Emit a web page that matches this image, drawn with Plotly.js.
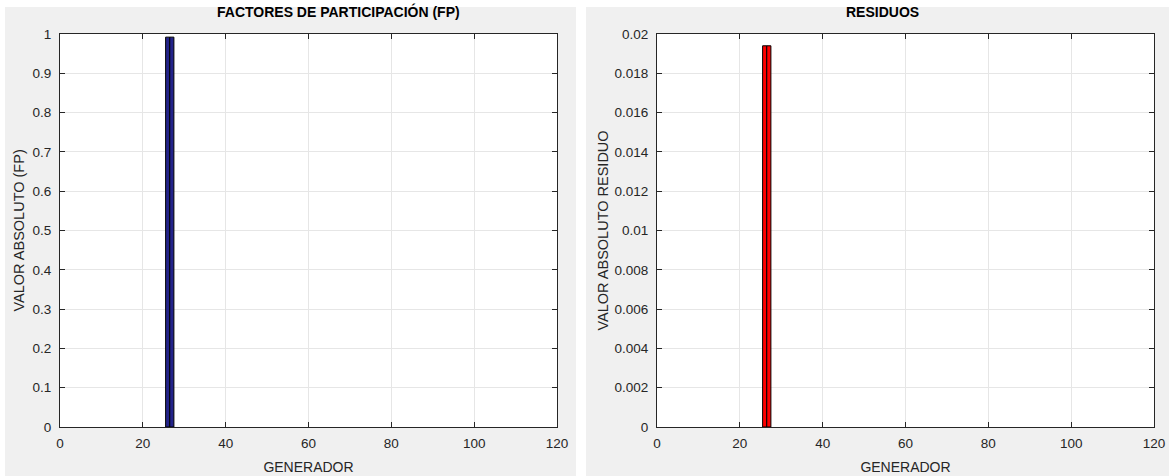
<!DOCTYPE html>
<html>
<head>
<meta charset="utf-8">
<script src="https://cdn.plot.ly/plotly-3.0.1.min.js"></script>
<style>
html,body{margin:0;padding:0;background:#ffffff;}
#wrap{position:relative;width:1169px;height:476px;overflow:hidden;}
.panel{position:absolute;background:#f0f0f0;}
#chart{position:absolute;left:0;top:0;width:1169px;height:476px;}
</style>
</head>
<body>
<div id="wrap">
  <div class="panel" style="left:5px;top:7px;width:571px;height:469px;"></div>
  <div class="panel" style="left:586px;top:7px;width:583px;height:469px;"></div>
  <div id="chart"></div>
</div>
<script>
// Data
const generators = [26, 27];
const fpValues = [0.992, 0.992];
const residueValues = [0.0194, 0.0194];

const xTicks = [0, 20, 40, 60, 80, 100, 120];
const yTicksFP = [0, 0.1, 0.2, 0.3, 0.4, 0.5, 0.6, 0.7, 0.8, 0.9, 1];
const yTicksRes = [0, 0.002, 0.004, 0.006, 0.008, 0.01, 0.012, 0.014, 0.016, 0.018, 0.02];

const titleLeft = 'FACTORES DE PARTICIPACIÓN (FP)';
const titleRight = 'RESIDUOS';
const xLabel = 'GENERADOR';
const yLabelLeft = 'VALOR ABSOLUTO (FP)';
const yLabelRight = 'VALOR ABSOLUTO RESIDUO';

const FONT = 'Liberation Sans, Arial, Helvetica, sans-serif';
const AX = '#262626';

const traces = [
  {type:'bar', x:generators, y:fpValues, width:1, xaxis:'x', yaxis:'y',
   marker:{color:'#23238a', line:{color:'#000000', width:1}}, hoverinfo:'x+y'},
  {type:'bar', x:generators, y:residueValues, width:1, xaxis:'x2', yaxis:'y2',
   marker:{color:'#ff0000', line:{color:'#000000', width:1}}, hoverinfo:'x+y'}
];

function xAxis(domain, anchor){
  return {domain:domain, anchor:anchor, range:[0,120], tickvals:xTicks, ticktext:xTicks.map(String),
    showline:true, linecolor:AX, linewidth:1, mirror:'allticks', ticks:'inside', ticklen:5, tickcolor:AX,
    ticklabelstandoff:4,
    showgrid:true, gridcolor:'#e6e6e6', zeroline:false, tickfont:{family:FONT, size:13.5, color:AX},
    title:{text:xLabel, font:{family:FONT, size:14, color:AX}, standoff:11}, fixedrange:true};
}
function yAxis(domain, anchor, range, ticks){
  return {domain:domain, anchor:anchor, range:range, tickvals:ticks, ticktext:ticks.map(String),
    showline:true, linecolor:AX, linewidth:1, mirror:'allticks', ticks:'inside', ticklen:5, tickcolor:AX,
    ticklabelstandoff:5,
    showgrid:true, gridcolor:'#e6e6e6', zeroline:false, tickfont:{family:FONT, size:13.5, color:AX},
    title:{text:'', font:{family:FONT, size:14, color:AX}}, fixedrange:true};
}

const W = 1169, ML = 60, MR = 15;
const pw = W - ML - MR;
const leftEnd = (557 - ML) / pw;
const rightStart = (657 - ML) / pw;
const leftTitleX = (338 - ML) / pw;
const rightTitleX = (882 - ML) / pw;

const layout = {
  width:1169, height:476,
  margin:{l:ML, r:MR, t:34, b:49, pad:0},
  paper_bgcolor:'rgba(0,0,0,0)', plot_bgcolor:'#ffffff',
  showlegend:false, bargap:0,
  xaxis: xAxis([0, leftEnd], 'y'),
  yaxis: yAxis([0,1], 'x', [0,1], yTicksFP),
  xaxis2: xAxis([rightStart, 1], 'y2'),
  yaxis2: yAxis([0,1], 'x2', [0,0.02], yTicksRes),
  annotations:[
    {text:'<b>'+titleLeft+'</b>', xref:'paper', yref:'paper', x:leftTitleX, y:1, yshift:12, xanchor:'center', yanchor:'bottom', showarrow:false, font:{family:FONT, size:14, color:'#000000'}},
    {text:'<b>'+titleRight+'</b>', xref:'paper', yref:'paper', x:rightTitleX, y:1, yshift:12, xanchor:'center', yanchor:'bottom', showarrow:false, font:{family:FONT, size:14, color:'#000000'}},
    {text:yLabelLeft, xref:'paper', yref:'paper', x:0, xshift:-42, y:0.5, xanchor:'center', yanchor:'middle', textangle:-90, showarrow:false, font:{family:FONT, size:14.5, color:AX}},
    {text:yLabelRight, xref:'paper', yref:'paper', x:rightStart, xshift:-55, y:0.5, xanchor:'center', yanchor:'middle', textangle:-90, showarrow:false, font:{family:FONT, size:14.5, color:AX}}
  ]
};

Plotly.newPlot('chart', traces, layout, {displayModeBar:false, staticPlot:true});
</script>
</body>
</html>
